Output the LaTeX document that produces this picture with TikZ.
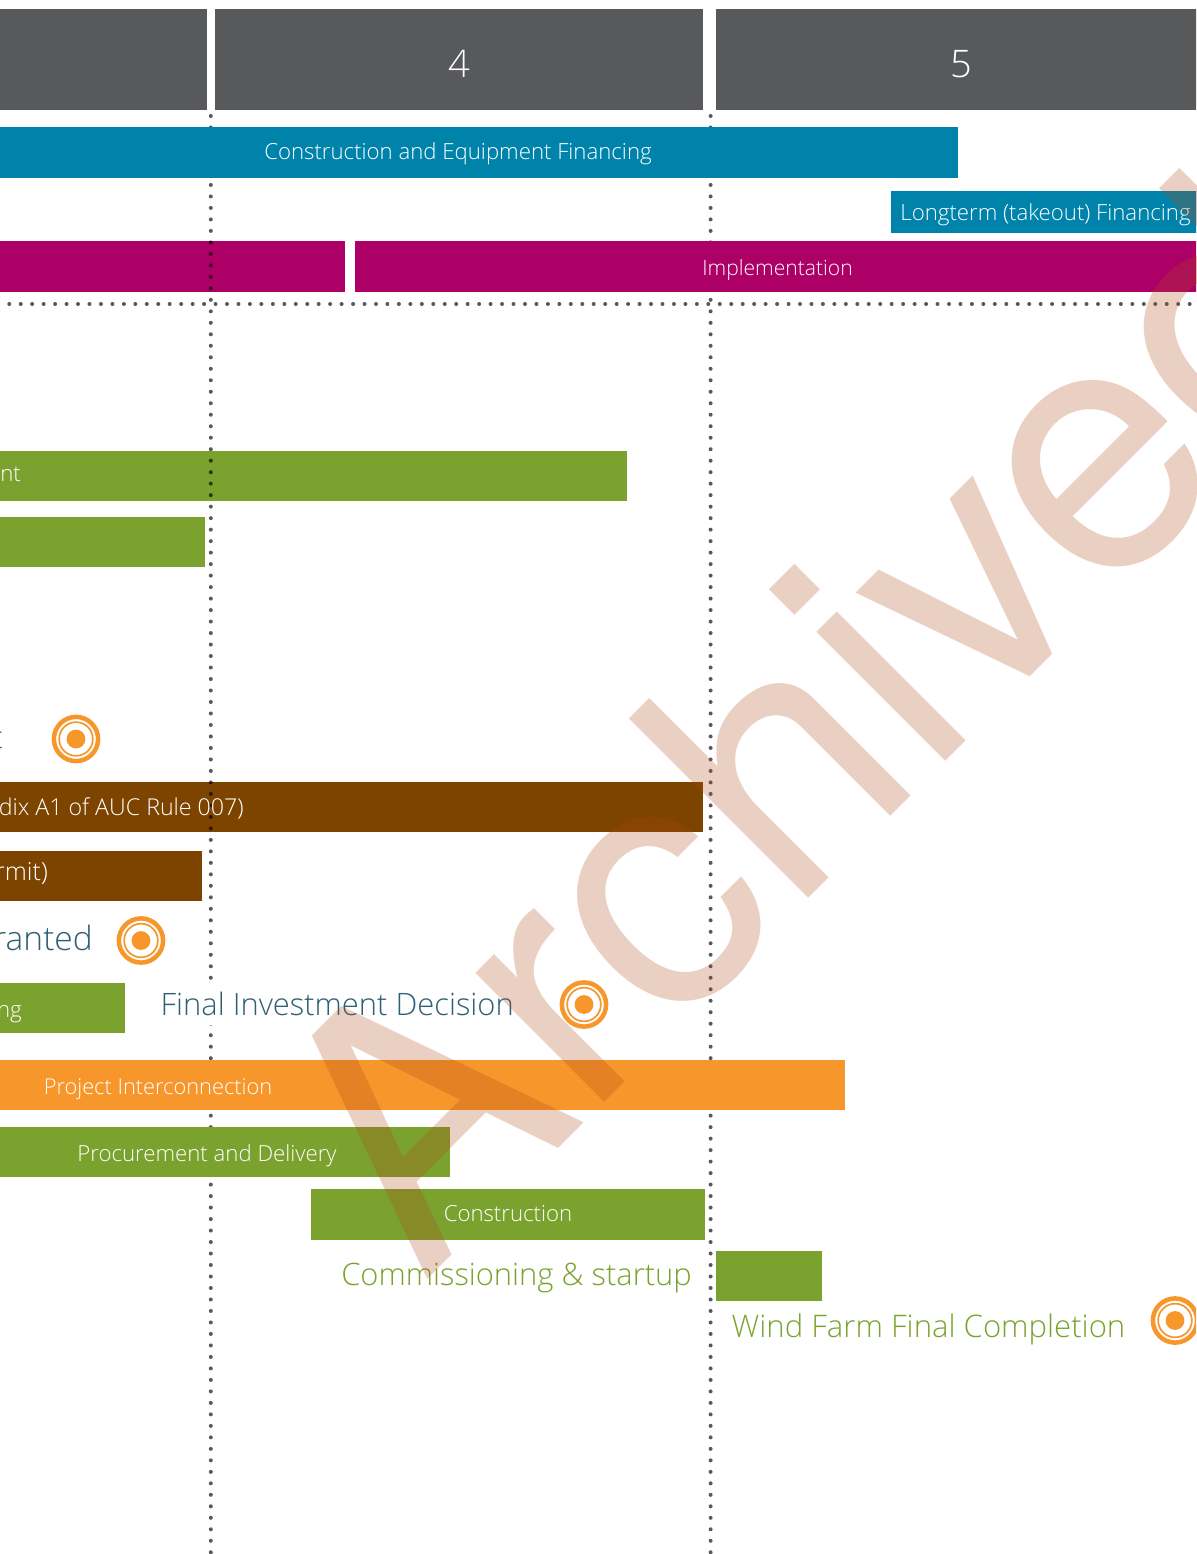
\documentclass[tikz,border=0pt]{standalone}
\usepackage{fontspec}
\setmainfont{Open Sans Light}
\newfontfamily\markfont{TeX Gyre Heros}
\definecolor{yeargrey}{HTML}{58595B}
\definecolor{financeblue}{HTML}{0083AB}
\definecolor{planmagenta}{HTML}{AD0067}
\definecolor{workgreen}{HTML}{7BA22E}
\definecolor{permitbrown}{HTML}{7D4400}
\definecolor{gridorange}{HTML}{F7962A}
\definecolor{noteblue}{HTML}{2F5F75}
\definecolor{markred}{HTML}{AE4616}
\tikzset{
  bar/.style={rectangle,inner sep=0pt,minimum height=50.5pt,text=white},
  barlabel/.style={anchor=base,inner sep=0pt,text=white,font=\fontsize{22.2}{27}\selectfont},
  yearlabel/.style={anchor=base,inner sep=0pt,text=white,font=\fontsize{38}{44}\selectfont},
  note/.style={anchor=base,inner sep=0pt,font=\fontsize{30.9}{37}\selectfont},
  griddots/.style={yeargrey,line width=4pt,line cap=round},
  target/.pic={
    \draw[gridorange,line width=4.5pt] (0,0) circle (22.1pt);
    \draw[gridorange,line width=1.7pt] (0,0) circle (16.85pt);
    \fill[gridorange] (0,0) circle (9.4pt);
  }
}
\begin{document}
\begin{tikzpicture}[x=1pt,y=-1pt]
\useasboundingbox (0,0) rectangle (1196,1554);
\clip (0,0) rectangle (1196,1554);

\node[bar,fill=yeargrey,minimum width=227pt,minimum height=101pt] (year3) at (93.5,59.5) {};
\node[bar,fill=yeargrey,minimum width=488.5pt,minimum height=101pt] (year4) at (459,59.5) {};
\node[bar,fill=yeargrey,minimum width=490pt,minimum height=101pt] (year5) at (961,59.5) {};
\node[yearlabel] (year4text) at (459,78) {4};
\node[yearlabel] (year5text) at (961,78) {5};

\node[bar,fill=planmagenta,minimum width=364.5pt] (plan) at (162.25,266.25) {};
\node[bar,fill=workgreen,minimum width=647pt] (permitwork) at (303.5,476) {};
\node[bar,fill=workgreen,minimum width=215pt] (studies) at (97.5,542) {};
\node[bar,fill=permitbrown,minimum width=713pt] (appendix) at (346.5,807) {};
\node[bar,fill=permitbrown,minimum width=211.5pt] (permit) at (95.75,876) {};
\node[bar,fill=workgreen,minimum width=134.5pt] (financing) at (57.25,1008) {};

\coordinate (top4) at (210.8,116);
\coordinate (bottom4) at (210.8,1553);
\coordinate (top5) at (710.6,116);
\coordinate (bottom5) at (710.6,1553);
\coordinate (rowleft) at (-2.2,304);
\coordinate (rowright) at (1196,304);
\begin{scope}[blend mode=multiply]
\draw[griddots,dash pattern=on 0pt off 11.49pt] (top4) -- (bottom4);
\draw[griddots,dash pattern=on 0pt off 11.49pt] (top5) -- (bottom5);
\draw[griddots,dash pattern=on 0pt off 11.46pt] (rowleft) -- (rowright);
\end{scope}

\node[bar,fill=financeblue,minimum width=970pt] (equipfin) at (473,152.5) {};
\node[bar,fill=financeblue,minimum width=315pt,minimum height=42pt] (longterm) at (1048.5,212) {};
\node[bar,fill=planmagenta,minimum width=851pt] (implement) at (780.5,266.25) {};
\node[bar,fill=gridorange,minimum width=855pt] (intercon) at (417.5,1085) {};
\node[bar,fill=workgreen,minimum width=460pt] (procure) at (220,1152) {};
\node[bar,fill=workgreen,minimum width=394pt] (construct) at (508,1214.25) {};
\node[bar,fill=workgreen,minimum width=106pt] (commission) at (769,1276) {};

\node[barlabel] (equipfintext) at (458,159.5) {Construction and Equipment Financing};
\node[barlabel] (longtermtext) at (1045.5,221) {Longterm (takeout) Financing};
\node[barlabel,font=\fontsize{21.1}{26}\selectfont] (implementtext) at (777.5,275) {Implementation};
\node[barlabel,anchor=base east] (permitworktext) at (21,481) {ent};
\node[barlabel,anchor=base east,font=\fontsize{23.2}{28}\selectfont] (appendixtext) at (244,815) {dix A1 of AUC Rule 007)};
\node[barlabel,anchor=base east,font=\fontsize{25}{30}\selectfont] (permittext) at (48,880) {ermit)};
\node[barlabel,anchor=base east] (financingtext) at (22,1017) {ng};
\node[barlabel,font=\fontsize{21.8}{27}\selectfont] (intercontext) at (158,1094) {Project Interconnection};
\node[barlabel] (procuretext) at (207,1161) {Procurement and Delivery};
\node[barlabel] (constructtext) at (508,1221) {Construction};

\node[note,text=noteblue,anchor=base east] (hearingtext) at (3,748) {t};
\node[note,text=noteblue,anchor=base east,font=\fontsize{33.5}{40}\selectfont] (grantedtext) at (93,950) {Granted};
\fill[white] (150,986) rectangle (525,1025);
\node[note,text=noteblue,anchor=base west] (fidtext) at (160.5,1015.5) {Final Investment Decision};
\node[note,text=workgreen] (commissiontext) at (516.5,1285) {Commissioning \& startup};
\node[note,text=workgreen,font=\fontsize{31.1}{37}\selectfont] (completiontext) at (928.5,1337) {Wind Farm Final Completion};

\pic (hearingmark) at (76,739) {target};
\pic (grantedmark) at (141,940.5) {target};
\pic (fidmark) at (584,1004.5) {target};
\pic (completionmark) at (1175,1320.5) {target};

\node[anchor=base west,inner sep=0pt,rotate=45,text=markred,text opacity=0.26,font=\markfont\fontsize{348}{348}\selectfont] (watermark) at (423,1284) {Archived};
\end{tikzpicture}
\end{document}
